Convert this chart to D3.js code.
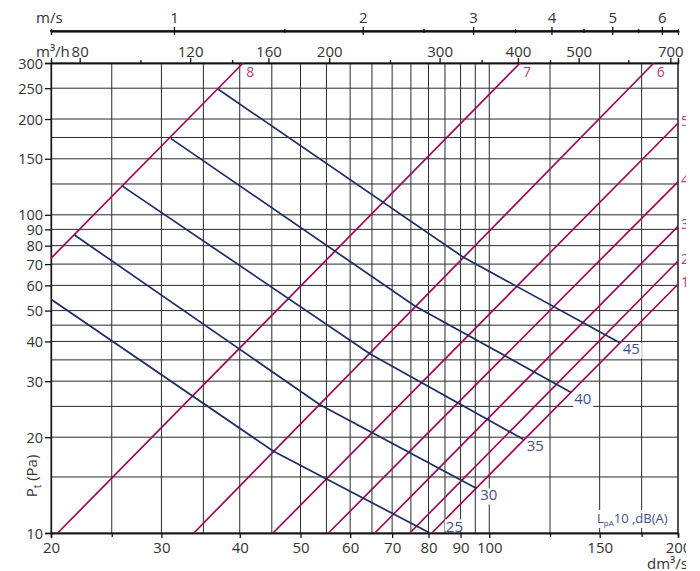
<!DOCTYPE html>
<html><head><meta charset="utf-8">
<script src="https://cdn.jsdelivr.net/npm/d3@7"></script>
<style>
body{margin:0;background:#fff}
svg{display:block}
text{font-family:"Open Sans",sans-serif}
</style>
</head><body>
<svg id="chart" width="700" height="571"></svg>
<script>
// ---------- data ----------
const xGridValues = [20,25,30,35,40,45,50,55,60,65,70,75,80,85,90,95,100,125,150,175,200];
const xTickLabels = [20,30,40,50,60,70,80,90,100,150,200];
const xMinorTicks = [25,125,175];
const yGridValues = [10,15,20,25,30,35,40,45,50,60,70,80,90,100,125,150,175,200,250,300];
const yTickLabels = [10,20,30,40,50,60,70,80,90,100,150,200,250,300];
const m3hMajor = [80,120,160,200,300,400,500,700];
const m3hMinor = [100,140,250,350,450,600];
const msMajor = [1,2,3,4,5,6];
const msMinor = [1.5,2.5,3.5,4.5,5.5];
const ductDiameterMm = 200;

// damper position lines (dm3/s, Pa)
const damperNames = ["1","2","3","4","5","6","7","8"];
const damperStart = [[81,10],[74.7,10],[65.7,10],[55.4,10],[45.2,10],[33.8,10],[20.5,10],[20,73]];
const damperEnd   = [[200,60.5],[200,71.6],[200,92],[200,127],[200,194],[183,300],[112,300],[40.5,300]];

// sound level lines LpA10 dB(A)
const soundNames = ["25","30","35","40","45"];
const soundStart = [[20,54.3],[21.8,86.4],[26.0,123.1],[31.04,173.9],[36.96,248]];
const soundKink  = [[45.2,18.1],[53.7,25.3],[64.5,36.6],[76.1,51.7],[90.8,73.7]];
const soundEnd   = [[80.4,10],[95.5,13.8],[113.3,19.7],[134.9,27.7],[161.2,39.7]];

// ---------- layout ----------
const L = 51, R = 678, T = 63, B = 533;
const svg = d3.select("#chart");
svg.append("defs").append("clipPath").attr("id","cut")
  .append("rect").attr("x",0).attr("y",0).attr("width",686).attr("height",571);
const root = svg.append("g").attr("clip-path","url(#cut)");

const x = d3.scaleLog().domain([20,200]).range([L,R]);
const y = d3.scaleLog().domain([10,300]).range([B,T]);
const areaFactor = Math.PI*Math.pow(ductDiameterMm/2000,2)*1000; // dm3/s per m/s
const xm3h = d3.scaleLog().domain([20*3.6,200*3.6]).range([L,R]);
const xms = d3.scaleLog().domain([20/areaFactor,200/areaFactor]).range([L,R]);

const txt = "#333";
const gridCol = "#2a2a2a";
const magenta = "#9a0b5b";
const magentaTxt = "#b2407f";
const navy = "#1e2d62";
const navyTxt = "#3f4e8e";

// grid
root.append("g").selectAll("line").data(xGridValues).join("line")
  .attr("x1",d=>x(d)).attr("x2",d=>x(d)).attr("y1",T).attr("y2",B)
  .attr("stroke",gridCol).attr("stroke-width",1);
root.append("g").selectAll("line").data(yGridValues).join("line")
  .attr("y1",d=>y(d)).attr("y2",d=>y(d)).attr("x1",L).attr("x2",R)
  .attr("stroke",gridCol).attr("stroke-width",1);
// right border
root.append("line").attr("x1",R).attr("x2",R).attr("y1",T).attr("y2",B)
  .attr("stroke",gridCol).attr("stroke-width",1.2);

function styleAxis(g){
  g.selectAll("path.domain").attr("stroke","#111").attr("stroke-width",1.3);
  g.selectAll(".tick line").attr("stroke","#111").attr("stroke-width",1.3);
  g.selectAll("text").attr("fill",txt).style("font-size","15px").style("font-family","'Open Sans',sans-serif");
}

// bottom axis
const gb = root.append("g").attr("transform",`translate(0,${B})`)
  .call(d3.axisBottom(x).tickValues(xTickLabels).tickFormat(d3.format("d")).tickSizeOuter(0).tickSize(5).tickPadding(4));
styleAxis(gb);
root.append("g").attr("transform",`translate(0,${B})`)
  .call(d3.axisBottom(x).tickValues(xMinorTicks).tickFormat("").tickSizeOuter(0).tickSize(4))
  .call(styleAxis);

// left axis
const gl = root.append("g").attr("transform",`translate(${L},0)`)
  .call(d3.axisLeft(y).tickValues(yTickLabels).tickFormat(d3.format("d")).tickSizeOuter(0).tickSize(6).tickPadding(2));
styleAxis(gl);
gl.selectAll("text").attr("dy","0.35em").style("font-size","14.5px");

// top m3/h axis
const gt = root.append("g").attr("transform",`translate(0,${T})`)
  .call(d3.axisTop(xm3h).tickValues(m3hMajor).tickFormat(d3.format("d")).tickSizeOuter(0).tickSize(5).tickPadding(1));
styleAxis(gt);
root.append("g").attr("transform",`translate(0,${T})`)
  .call(d3.axisTop(xm3h).tickValues(m3hMinor).tickFormat("").tickSizeOuter(0).tickSize(3))
  .call(styleAxis);

// m/s axis
const MSY = 31;
const gms = root.append("g").attr("transform",`translate(0,${MSY})`)
  .call(d3.axisTop(xms).tickValues(msMajor).tickFormat(d3.format("d")).tickSizeOuter(0).tickSize(4).tickPadding(4));
styleAxis(gms);
gms.select("path.domain").attr("d",`M${L-1},0H${R}`);
root.append("g").attr("transform",`translate(0,${MSY})`)
  .call(d3.axisBottom(xms).tickValues(msMajor).tickFormat("").tickSizeOuter(0).tickSize(4))
  .call(styleAxis);
root.append("g").attr("transform",`translate(0,${MSY})`)
  .call(d3.axisTop(xms).tickValues(msMinor).tickFormat("").tickSizeOuter(0).tickSize(2))
  .call(styleAxis);
root.append("g").attr("transform",`translate(0,${MSY})`)
  .call(d3.axisBottom(xms).tickValues(msMinor).tickFormat("").tickSizeOuter(0).tickSize(2))
  .call(styleAxis);

// unit labels
root.append("text").attr("x",36).attr("y",23).attr("fill",txt).style("font-size","15px").text("m/s");
root.append("text").attr("x",36).attr("y",57).attr("fill",txt).style("font-size","15px").text("m³/h");
root.append("text").attr("x",647).attr("y",569).attr("fill",txt).style("font-size","15px").text("dm³/s");

// y title
const yt = root.append("text").attr("transform","translate(37,476) rotate(-90)")
  .attr("text-anchor","middle").attr("fill",txt).style("font-size","15px");
yt.append("tspan").text("P");
yt.append("tspan").attr("dy","4").style("font-size","10px").text("t");
yt.append("tspan").attr("dy","-4").text(" (Pa)");

// damper lines
const line = d3.line().x(d=>x(d[0])).y(d=>y(d[1]));
root.append("g").selectAll("path").data(damperNames).join("path")
  .attr("d",(d,i)=>line([damperStart[i],damperEnd[i]]))
  .attr("fill","none").attr("stroke",magenta).attr("stroke-width",1.7);
root.append("g").selectAll("text").data(damperNames).join("text")
  .attr("x",(d,i)=>x(damperEnd[i][0])+3)
  .attr("y",(d,i)=>damperEnd[i][1]>=300? y(damperEnd[i][1])+14 : y(damperEnd[i][1])+3)
  .attr("fill",magentaTxt).style("font-size","14px").text(d=>d);

// sound lines
root.append("g").selectAll("path").data(soundNames).join("path")
  .attr("d",(d,i)=>line([soundStart[i],soundKink[i],soundEnd[i]]))
  .attr("fill","none").attr("stroke",navy).attr("stroke-width",1.7);
const sl = root.append("g").selectAll("g").data(soundNames).join("g")
  .attr("transform",(d,i)=>{
    const ex=x(soundEnd[i][0]), ey=y(soundEnd[i][1]);
    return i===0 ? `translate(${ex+16},${ey-1.5})` : `translate(${ex+3.5},${ey+12})`;
  });
sl.append("rect").attr("x",-1).attr("y",-12).attr("width",20)
  .attr("height",(d,i)=>i===0?11:16).attr("fill","#fff");
sl.append("text").attr("fill",navyTxt).style("font-size","15px").text(d=>d);

// LpA legend text
const lg = root.append("g").attr("transform","translate(597,523)");
lg.append("rect").attr("x",-2).attr("y",-13).attr("width",70).attr("height",18).attr("fill","#fff");
const lt = lg.append("text").attr("fill",navyTxt).style("font-size","13px");
lt.append("tspan").text("L");
lt.append("tspan").attr("dy","3").style("font-size","8px").text("pA");
lt.append("tspan").attr("dy","-3").text("10 ,dB(A)");
</script>
</body></html>
